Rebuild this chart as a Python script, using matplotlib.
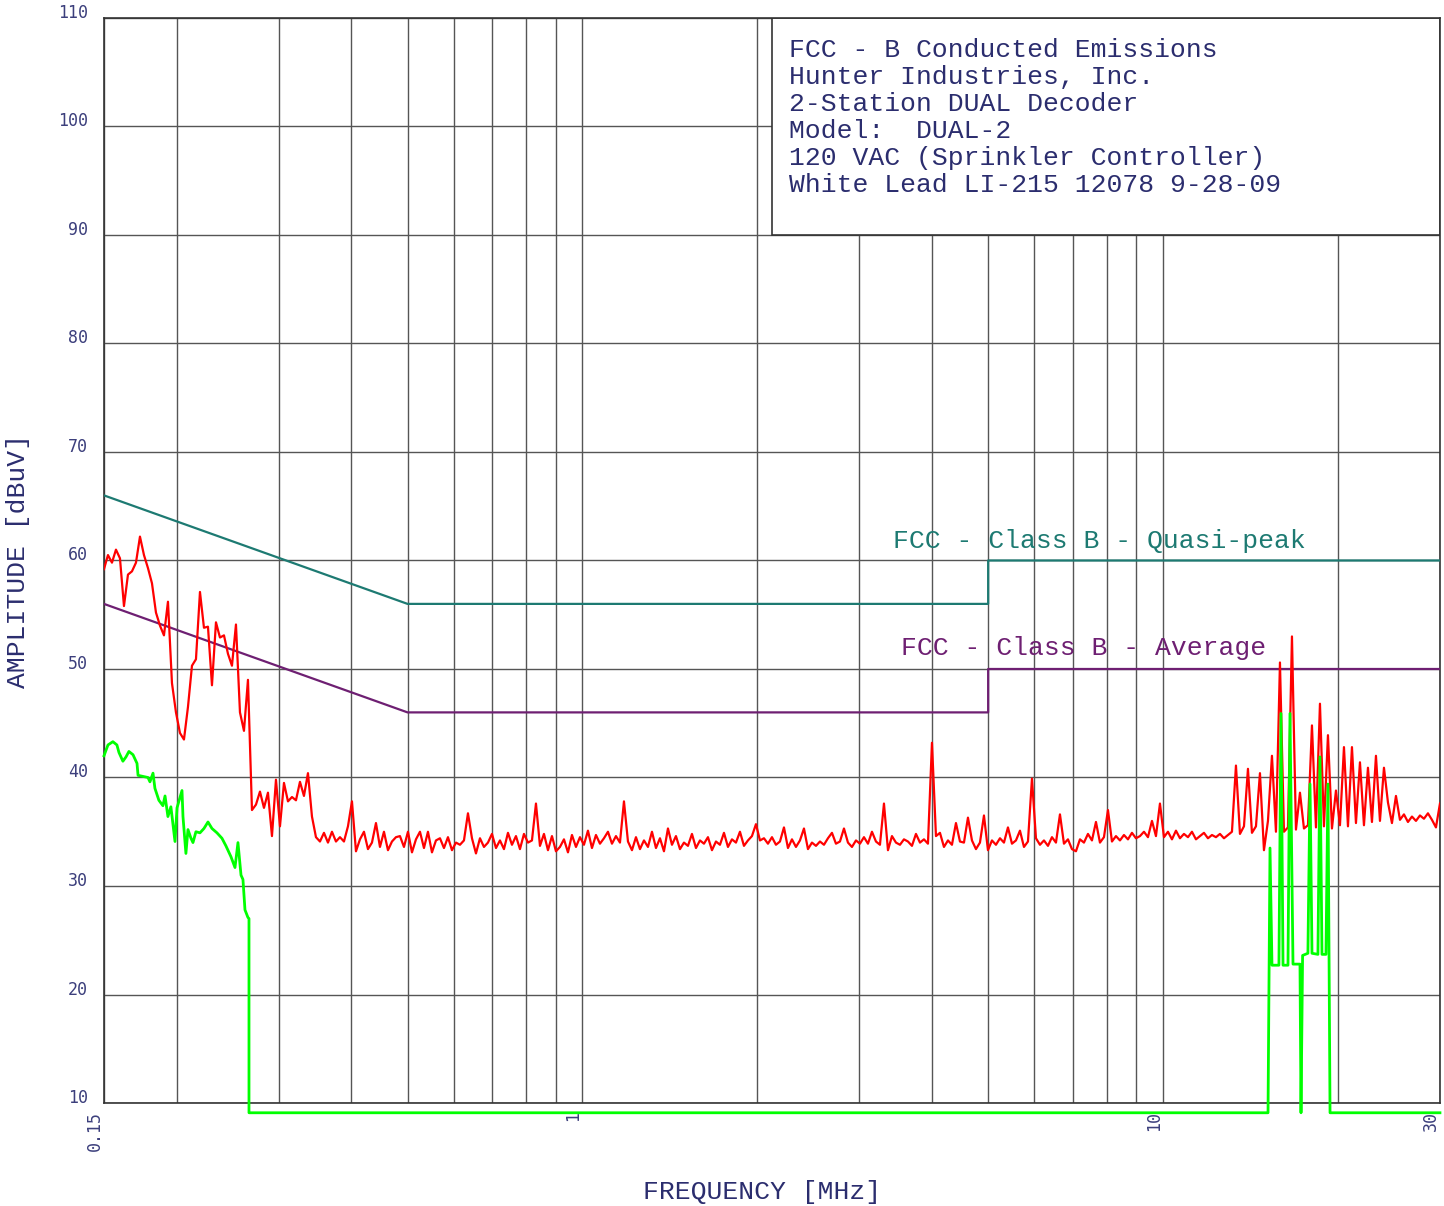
import numpy as np
import matplotlib
matplotlib.use('Agg')
import matplotlib.pyplot as plt
from matplotlib.patches import Rectangle
from matplotlib.ticker import LogLocator, NullFormatter

# peak sweep (red), one value per receiver step, 0.15 - 30 MHz
red_db = [
    59.2, 60.5, 59.8, 61.0, 60.2, 55.8, 58.7, 59.0, 59.8, 62.2,
    60.5, 59.3, 57.9, 55.2, 54.0, 53.1, 56.2, 48.7, 46.0, 44.1,
    43.5, 46.5, 50.3, 50.9, 57.1, 53.8, 53.9, 48.5, 54.3, 52.9,
    53.1, 51.4, 50.3, 54.1, 46.0, 44.3, 49.0, 37.0, 37.5, 38.7,
    37.2, 38.6, 34.6, 39.8, 35.5, 39.5, 37.8, 38.2, 37.9, 39.6,
    38.3, 40.4, 36.4, 34.5, 34.1, 34.9, 34.0, 35.0, 34.1, 34.5,
    34.1, 35.5, 37.8, 33.2, 34.3, 35.0, 33.4, 34.0, 35.8, 33.6,
    35.0, 33.3, 34.1, 34.5, 34.6, 33.6, 35.0, 33.1, 34.3, 35.0,
    33.5, 35.0, 33.1, 34.2, 34.4, 33.5, 34.5, 33.3, 34.0, 33.8,
    34.2, 36.7, 34.4, 33.0, 34.4, 33.6, 34.0, 34.8, 33.5, 34.2,
    33.4, 34.9, 33.8, 34.6, 33.4, 34.8, 34.0, 34.2, 37.6, 33.7,
    34.8, 33.3, 34.6, 33.2, 33.6, 34.3, 33.1, 34.7, 33.6, 34.5,
    33.8, 35.1, 33.5, 34.7, 33.9, 34.4, 35.0, 33.9, 34.6, 34.0,
    37.8, 34.1, 33.3, 34.5, 33.4, 34.2, 33.6, 35.0, 33.5, 34.4,
    33.2, 35.3, 33.8, 34.6, 33.4, 34.0, 33.7, 34.8, 33.5, 34.2,
    33.9, 34.5, 33.3, 34.1, 33.8, 34.9, 33.6, 34.3, 34.0, 35.0,
    33.7, 34.2, 34.6, 35.7, 34.2, 34.4, 33.9, 34.5, 33.8, 34.1,
    35.4, 33.5, 34.3, 33.6, 34.2, 35.3, 33.4, 34.0, 33.7, 34.1,
    33.8, 34.4, 34.9, 33.9, 34.1, 35.3, 34.0, 33.6, 34.2, 33.9,
    34.5, 33.9, 35.0, 34.1, 33.8, 37.6, 33.3, 34.6, 34.0, 33.8,
    34.3, 34.1, 33.7, 34.8, 34.0, 34.3, 33.9, 43.2, 34.6, 34.9,
    33.6, 34.2, 33.8, 35.8, 34.1, 34.0, 36.3, 34.2, 33.4, 34.0,
    36.5, 33.3, 34.2, 33.8, 34.4, 34.0, 35.4, 33.9, 34.2, 35.1,
    33.6, 34.1, 39.9, 34.4, 33.8, 34.2, 33.7, 34.5, 34.0, 36.6,
    33.9, 34.3, 33.4, 33.2, 34.3, 34.0, 34.8, 34.2, 35.9, 34.0,
    34.5, 37.0, 34.1, 34.6, 34.2, 34.7, 34.3, 34.9, 34.4, 34.6,
    35.0, 34.5, 36.0, 34.6, 37.6, 34.5, 35.0, 34.3, 35.1, 34.4,
    34.8, 34.5, 35.0, 34.3, 34.6, 34.9, 34.4, 34.7, 34.5, 34.8,
    34.4, 34.7, 35.0, 41.1, 34.8, 35.5, 40.8, 34.9, 35.5, 40.4,
    33.3, 36.0, 42.0, 35.0, 50.6, 35.0, 35.4, 53.0, 35.2, 38.6,
    35.3, 35.6, 44.8, 35.4, 46.8, 35.5, 43.9, 35.3, 38.8, 35.6,
    42.8, 35.5, 42.8, 35.8, 41.4, 35.6, 40.9, 35.9, 42.0, 36.0,
    40.9, 37.7, 35.8, 38.3, 36.1, 36.6, 35.9, 36.4, 36.0, 36.5,
    36.2, 36.7, 36.1, 35.4, 37.6,
]
red_freq = np.geomspace(0.15, 30, len(red_db))

# average trace (green)
green_freq = [0.150, 0.1524, 0.1554, 0.1579, 0.1592, 0.1617, 0.1637, 0.1656, 0.1683, 0.1710,
              0.1717, 0.1751, 0.1786, 0.1800, 0.1822, 0.1836, 0.1865, 0.1895, 0.1911, 0.1933,
              0.1956, 0.1988, 0.2004, 0.2044, 0.2052, 0.2076, 0.2093, 0.2118, 0.2135, 0.2160,
              0.2195, 0.2230, 0.2266, 0.2302, 0.2348, 0.2395, 0.2433, 0.2482, 0.2522, 0.2552,
              0.2583, 0.2603, 0.2624, 0.2655, 0.2666, 0.2666,
              15.17, 15.29, 15.41, 15.84, 15.97, 16.10, 16.42, 16.55, 16.75, 17.22,
              17.29, 17.40, 17.77, 17.92, 18.06, 18.49, 18.64, 18.79, 19.09, 19.24,
              19.40, 30.0]
green_db = [42.0, 43.0, 43.3, 43.0, 42.3, 41.5, 41.9, 42.4, 42.1, 41.3,
            40.2, 40.1, 40.0, 39.6, 40.4, 39.0, 37.9, 37.4, 38.3, 36.4,
            37.3, 34.1, 37.2, 38.8, 36.4, 33.0, 35.2, 34.4, 34.0, 35.0,
            34.9, 35.3, 35.9, 35.3, 34.9, 34.4, 33.7, 32.7, 31.7, 34.0,
            31.0, 30.6, 27.8, 27.1, 27.0, 9.1,
            9.1, 33.5, 22.7, 22.7, 45.9, 22.7, 22.7, 45.9, 22.8, 22.8,
            9.1, 23.6, 23.8, 39.4, 23.8, 23.7, 41.9, 23.7, 23.7, 39.4,
            9.1, 9.1]

# FCC class B limits
limit_freq = [0.15, 0.5, 5.0, 5.0, 30.0]
qp_limit = [66, 56, 56, 60, 60]
avg_limit = [56, 46, 46, 50, 50]

x_ticks = [0.15, 1, 10, 30]
x_ticklabels = ['0.15', '1', '10', '30']
y_ticks = list(range(10, 111, 10))

info_lines = ['FCC - B Conducted Emissions',
              'Hunter Industries, Inc.',
              '2-Station DUAL Decoder',
              'Model:  DUAL-2',
              '120 VAC (Sprinkler Controller)',
              'White Lead LI-215 12078 9-28-09']

mono = 'Liberation Mono'
navy = '#2b2d6e'
teal = '#1d7a72'
purple = '#6e1f72'

fig = plt.figure(figsize=(14.44, 12.06), dpi=100)
ax = fig.add_axes([0.0720, 0.0854, 0.9252, 0.8997])

ax.set_xscale('log')
ax.set_xlim(0.15, 30)
ax.set_ylim(10, 110)
ax.xaxis.set_minor_locator(LogLocator(base=10, subs=np.arange(2, 10)))
ax.xaxis.set_minor_formatter(NullFormatter())
ax.set_xticks(x_ticks, x_ticklabels, rotation=90, ha='right', va='top',
              family='DejaVu Sans Mono', fontsize=12, color='#3c3f7c')
ax.set_yticks(y_ticks, [str(v) for v in y_ticks],
              family='DejaVu Sans Mono', fontsize=12, color='#3c3f7c')
for lbl in ax.get_yticklabels():
    lbl.set_va('baseline')
ax.tick_params(axis='both', which='both', length=0)
ax.tick_params(axis='y', pad=11.5)
ax.tick_params(axis='x', pad=6)

ax.set_axisbelow(True)
ax.grid(True, which='both', axis='x', color='#555555', lw=1)
ax.grid(True, which='major', axis='y', color='#555555', lw=1)
for s in ax.spines.values():
    s.set_color('#333333')
    s.set_linewidth(1.2)

# title block
ax.add_patch(Rectangle((2.12, 90), 30 - 2.12, 20, fc='white', ec='#333333', lw=1.2, zorder=1))
for k, line in enumerate(info_lines):
    ax.text(0.5130, 0.9703 - k * 0.02488, line, transform=ax.transAxes,
            family=mono, fontsize=19, color=navy, va='center', ha='left', zorder=3)

ax.plot(limit_freq, qp_limit, color=teal, lw=1.6, zorder=3)
ax.plot(limit_freq, avg_limit, color=purple, lw=1.6, zorder=3)
ax.plot(red_freq, red_db, color='#ff0000', lw=1.6, zorder=4)
ax.plot(green_freq, green_db, color='#00ff00', lw=2.0, zorder=5, clip_on=False)

ax.text(3.43, 61.8, 'FCC - Class B - Quasi-peak', family=mono, fontsize=19,
        color=teal, va='center', ha='left', zorder=3)
ax.text(3.54, 51.9, 'FCC - Class B - Average', family=mono, fontsize=19,
        color=purple, va='center', ha='left', zorder=3)

fig.text(0.528, 0.0116, 'FREQUENCY [MHz]', family=mono, fontsize=19, color=navy,
         ha='center', va='center')
fig.text(0.0125, 0.535, 'AMPLITUDE [dBuV]', family=mono, fontsize=19, color=navy,
         ha='center', va='center', rotation=90)

fig.savefig('out.png', dpi=100)
